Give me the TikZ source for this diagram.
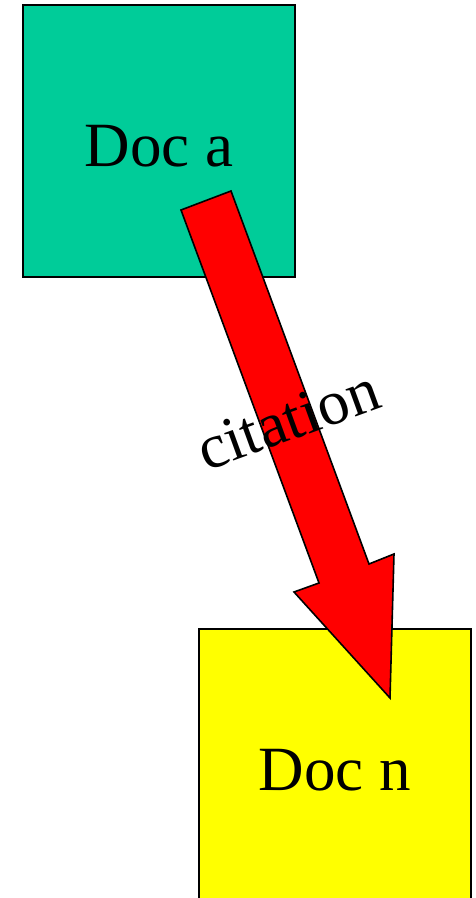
\documentclass[tikz,border=0pt]{standalone}
\usepackage{fontspec}
\setmainfont{Liberation Serif}
\definecolor{docgreen}{RGB}{0,204,153}
\definecolor{docyellow}{RGB}{255,255,0}
\definecolor{citered}{RGB}{255,0,0}
\begin{document}
\begin{tikzpicture}[x=1pt,y=1pt,
  docbox/.style={draw=black, line width=2pt, minimum width=272pt, minimum height=272pt, inner sep=0pt, outer sep=0pt},
  doclabel/.style={font=\fontsize{63}{75}\selectfont, anchor=base, inner sep=0pt},
  bigarrow/.style={draw=black, fill=citered, line width=1.6pt, line join=miter}]
\useasboundingbox (0,0) rectangle (475,898);
\node[docbox, fill=docgreen] (doca) at (159,757) {};
\node[docbox, fill=docyellow, minimum height=276pt] (docn) at (335,131) {};
\node[doclabel] (docatext) at (159,731) {Doc a};
\node[doclabel] (docntext) at (335,107) {Doc n};
\coordinate (t1) at (181,688);
\coordinate (t2) at (231,707);
\coordinate (r1) at (369,334);
\coordinate (hr) at (394,344);
\coordinate (tip) at (390,200);
\coordinate (hl) at (294,306);
\coordinate (l1) at (319,315);
\draw[bigarrow] (t1) -- (t2) -- (r1) -- (hr) -- (tip) -- (hl) -- (l1) -- cycle;
\node[doclabel, rotate=20] (cite) at (295,459) {citation};
\end{tikzpicture}
\end{document}
